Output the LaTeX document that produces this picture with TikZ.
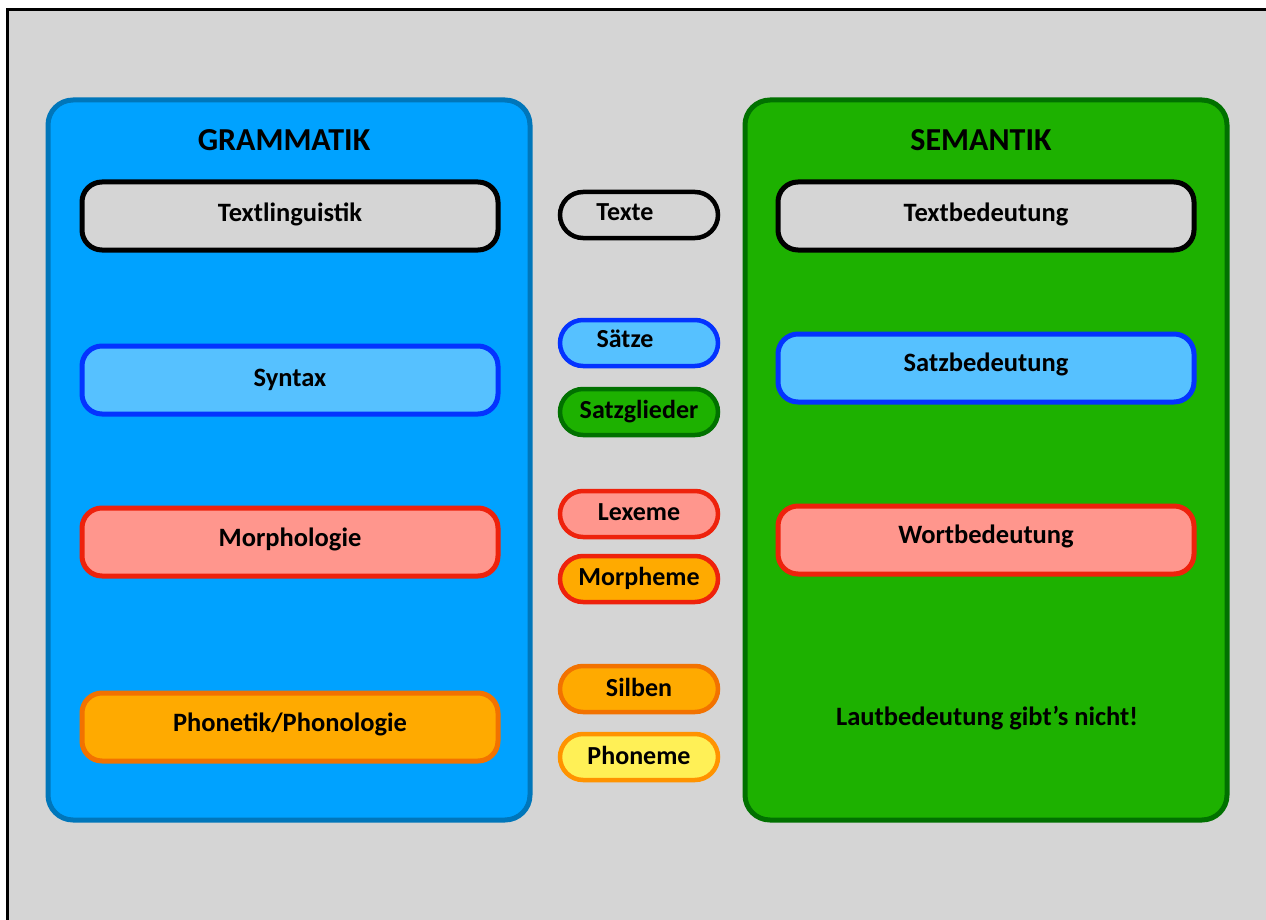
\documentclass[tikz,border=0pt]{standalone}
\usepackage{fontspec}
\setmainfont{Carlito}
\definecolor{bg}{HTML}{D5D5D5}
\definecolor{gfill}{HTML}{00A2FF}
\definecolor{gline}{HTML}{0076BA}
\definecolor{sfill}{HTML}{1DB100}
\definecolor{sline}{HTML}{017100}
\definecolor{lbfill}{HTML}{56C1FF}
\definecolor{lbline}{HTML}{0433FF}
\definecolor{rfill}{HTML}{FF968D}
\definecolor{rline}{HTML}{EE220C}
\definecolor{ofill}{HTML}{FFAA00}
\definecolor{oline}{HTML}{F27200}
\definecolor{yfill}{HTML}{FFF056}
\definecolor{yline}{HTML}{FF9300}
\newcommand{\up}[2][5.5pt]{\raisebox{#1}{#2}}
\tikzset{
  bigbox/.style={rounded corners=25pt, line width=5pt, minimum width=482pt, minimum height=720pt, inner sep=0pt},
  innerbox/.style={rounded corners=20pt, line width=5pt, minimum width=416pt, minimum height=68pt, inner sep=0pt, font=\bfseries\fontsize{26.5}{30}\selectfont},
  pill/.style={rounded corners=23pt, line width=4.5pt, minimum width=158pt, minimum height=46pt, inner sep=0pt, font=\bfseries\fontsize{26}{30}\selectfont},
  title/.style={font=\bfseries\fontsize{32}{36}\selectfont},
  plain/.style={font=\bfseries\fontsize{26.5}{30}\selectfont}
}
\begin{document}
\begin{tikzpicture}[x=1pt,y=-1pt]
\useasboundingbox (0,0) rectangle (1266,920);
\fill[white] (0,0) rectangle (1266,920);
\fill[bg] (7,10) rectangle (1266,920);
\draw[line width=3pt] (7,920) -- (7,10) -- (1266,10);

\node[bigbox, fill=gfill, draw=gline] (gram) at (289,460) {};
\node[bigbox, fill=sfill, draw=sline] (sem) at (986,460) {};
\node[title] (gramt) at (284,140) {GRAMMATIK};
\node[title] (semt) at (981,140) {SEMANTIK};

\node[innerbox, fill=bg, draw=black] (tl) at (290,216) {\up[7.5pt]{Textlinguistik}};
\node[innerbox, fill=lbfill, draw=lbline] (syn) at (290,380) {\up[5pt]{Syntax}};
\node[innerbox, fill=rfill, draw=rline] (mor) at (290,542) {\up[9.5pt]{Morphologie}};
\node[innerbox, fill=ofill, draw=oline] (pho) at (290,727) {\up[9.5pt]{Phonetik/Phonologie}};

\node[innerbox, fill=bg, draw=black] (tb) at (986,216) {\up[7.5pt]{Textbedeutung}};
\node[innerbox, fill=lbfill, draw=lbline] (sb) at (986,368) {\up[12.5pt]{Satzbedeutung}};
\node[innerbox, fill=rfill, draw=rline] (wb) at (986,540) {\up[12.5pt]{Wortbedeutung}};
\node[plain] (lb) at (987,718) {Lautbedeutung gibt’s nicht!};

\node[pill, fill=bg, draw=black] (texte) at (639,215) {\hspace*{-28pt}\up[6pt]{Texte}};
\node[pill, fill=lbfill, draw=lbline] (saetze) at (639,343) {\hspace*{-28pt}\up[9.5pt]{Sätze}};
\node[pill, fill=sfill, draw=sline] (sg) at (639,412) {\up[3pt]{Satzglieder}};
\node[pill, fill=rfill, draw=rline] (lex) at (639,514) {\up[3.5pt]{Lexeme}};
\node[pill, fill=ofill, draw=rline] (morph) at (639,579) {\up[5pt]{Morpheme}};
\node[pill, fill=ofill, draw=oline] (silb) at (639,689) {\up[3.5pt]{Silben}};
\node[pill, fill=yfill, draw=yline] (phon) at (639,757) {\up[3.5pt]{Phoneme}};
\end{tikzpicture}
\end{document}
